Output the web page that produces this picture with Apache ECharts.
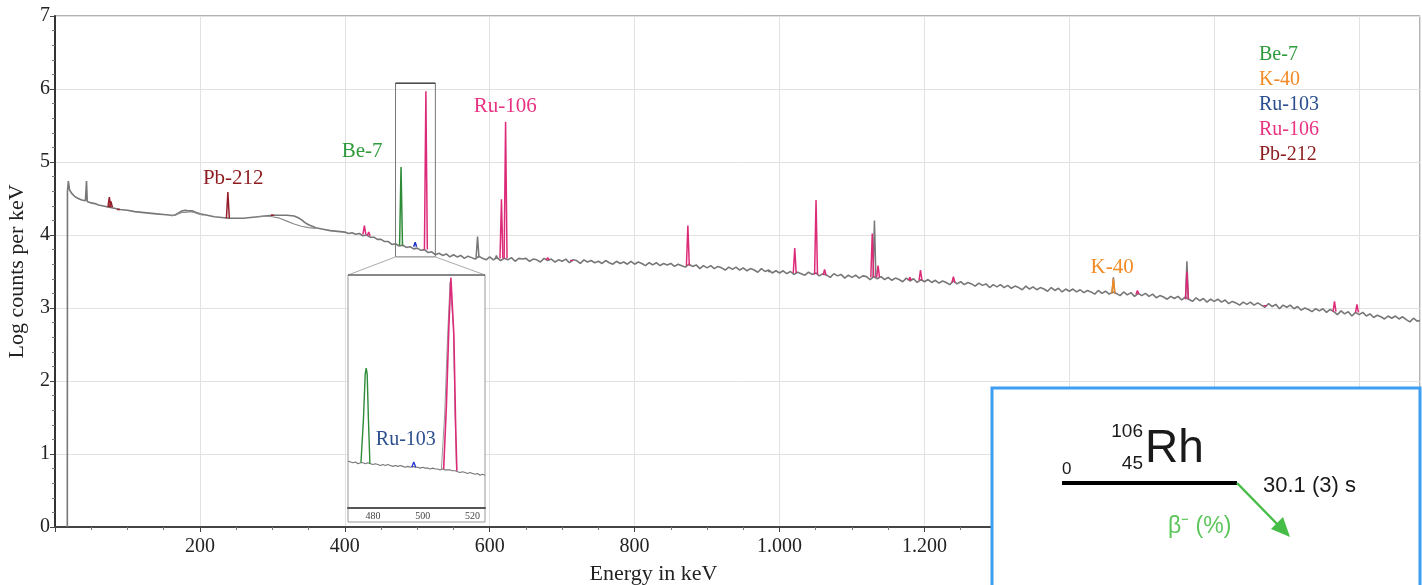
<!DOCTYPE html>
<html><head><meta charset="utf-8">
<script src="https://cdn.jsdelivr.net/npm/echarts@6/dist/echarts.min.js"></script>
<style>html,body{margin:0;padding:0;background:#fff}#c{width:1422px;height:585px}</style>
</head><body><div id="c"></div>
<script>
// ---------------- DATA ----------------
const xTickValues = [200, 400, 600, 800, 1000, 1200, 1400, 1600, 1800];
const xTickLabels = ['200', '400', '600', '800', '1.000', '1.200', '1.400', '1.600', '1.800'];
const yTickValues = [0, 1, 2, 3, 4, 5, 6, 7];
const insetTickValues = [480, 500, 520];
const insetTickLabels = ['480', '500', '520'];
const nuclides = ['Be-7', 'K-40', 'Ru-103', 'Ru-106', 'Pb-212'];

// low-energy part of the gray spectrum [keV, log counts]
const bgLow = [[17,0],[17.2,4.60],[18.5,4.74],[20,4.62],[23,4.57],[27,4.53],[32,4.50],[37,4.48],[42,4.47],[43.5,4.74],[44.5,4.46],[50,4.44],[55,4.43],[60,4.41],[65,4.40],[70,4.39],[80,4.37],[90,4.35],[100,4.34],[110,4.32],[120,4.31],[130,4.30],[140,4.29],[150,4.28],[160,4.27],[165,4.27],[170,4.30],[175,4.33],[180,4.34],[185,4.33],[190,4.33],[195,4.31],[200,4.29],[210,4.27],[220,4.25],[230,4.24],[240,4.23],[250,4.23],[260,4.23],[270,4.24],[280,4.25],[290,4.26],[300,4.27],[310,4.27],[320,4.27],[330,4.26],[335,4.24],[340,4.21],[345,4.17],[350,4.14],[360,4.10],[370,4.08],[380,4.06],[390,4.05],[400,4.04]];
// second (overlapping) measurement where it separates from the first
const bgAltA = [[160,4.26],[168,4.28],[175,4.31],[180,4.31],[186,4.32],[192,4.31],[198,4.29],[205,4.27]];
const bgAltB = [[280,4.25],[290,4.26],[300,4.25],[310,4.23],[320,4.19],[330,4.15],[340,4.12],[350,4.10],[360,4.09]];
// noisy part of the gray spectrum, from 405 keV in 5 keV channels
const bgNoisyStart = 405, bgNoisyStep = 5;
const bgNoisy = [
 4.02,4.03,4.01,4.02,3.99,4.00,3.97,3.97,3.94,
 3.94,3.91,3.91,3.87,3.88,3.85,3.86,3.83,3.84,3.81,
 3.82,3.79,3.80,3.76,3.77,3.73,3.75,3.72,3.74,3.70,
 3.73,3.70,3.72,3.68,3.71,3.69,3.67,3.71,3.68,3.66,
 3.70,3.66,3.69,3.65,3.68,3.66,3.69,3.64,3.68,3.67,
 3.68,3.64,3.67,3.66,3.63,3.68,3.65,3.67,3.63,3.66,
 3.64,3.67,3.62,3.66,3.65,3.61,3.66,3.63,3.65,3.62,
 3.64,3.61,3.65,3.62,3.60,3.64,3.61,3.63,3.60,3.64,
 3.60,3.63,3.61,3.58,3.62,3.59,3.62,3.58,3.61,3.59,
 3.61,3.57,3.60,3.58,3.56,3.60,3.57,3.59,3.54,3.58,
 3.55,3.58,3.54,3.57,3.55,3.52,3.56,3.53,3.56,3.52,
 3.55,3.51,3.54,3.52,3.49,3.54,3.50,3.52,3.48,3.51,
 3.48,3.51,3.47,3.50,3.46,3.49,3.47,3.45,3.49,3.46,
 3.48,3.44,3.47,3.45,3.42,3.47,3.44,3.46,3.41,3.45,
 3.42,3.45,3.41,3.44,3.43,3.39,3.43,3.40,3.43,3.39,
 3.42,3.38,3.41,3.39,3.36,3.41,3.37,3.40,3.35,3.39,
 3.36,3.39,3.35,3.38,3.34,3.37,3.35,3.32,3.37,3.33,
 3.36,3.32,3.35,3.33,3.30,3.34,3.31,3.33,3.28,3.32,
 3.29,3.32,3.28,3.31,3.27,3.30,3.28,3.25,3.30,3.26,
 3.29,3.25,3.28,3.26,3.23,3.28,3.24,3.27,3.22,3.26,
 3.23,3.26,3.22,3.25,3.21,3.24,3.22,3.19,3.24,3.20,
 3.23,3.19,3.22,3.20,3.17,3.22,3.18,3.21,3.16,3.20,
 3.17,3.20,3.16,3.19,3.14,3.17,3.15,3.12,3.16,3.13,
 3.16,3.11,3.15,3.12,3.09,3.14,3.10,3.13,3.08,3.12,
 3.09,3.12,3.08,3.11,3.06,3.09,3.07,3.04,3.08,3.05,
 3.08,3.04,3.07,3.04,3.01,3.06,3.02,3.05,2.99,3.04,
 3.01,3.04,2.99,3.02,2.97,3.00,2.98,2.95,2.99,2.96,
 2.99,2.94,2.98,2.95,2.91,2.96,2.92,2.95,2.89,2.94,
 2.91,2.94,2.89,2.92,2.87,2.90,2.88,2.85,2.89,2.86,
 2.89,2.85,2.88,2.84,2.81,2.86,2.82,2.83
];
// peaks: [energy keV, top, base]
const grayPeaks   = [[583.2,3.98,3.69],[609.3,3.72,3.67],[986,3.52,3.50],[1131,4.20,3.42],[1460.8,3.42,3.20],[1562.3,3.64,3.12]];
const be7Peaks    = [[477.6,4.93,3.86]];
const k40Peaks    = [[1460.8,3.40,3.20]];
const ru103Peaks  = [[497.1,3.90,3.84]];
const ru106Peaks  = [[427,4.13,4.01],[433,4.04,3.99],[511.9,5.97,3.80],[616.2,4.49,3.68],[621.9,5.55,3.68],[680,3.69,3.66],[713,3.67,3.65],[873.5,4.13,3.58],[1021,3.82,3.48],[1050.4,4.48,3.46],[1062.2,3.53,3.45],[1128,4.02,3.42],[1136,3.58,3.42],[1180,3.42,3.38],[1194.6,3.52,3.38],[1240,3.43,3.35],[1494,3.24,3.19],[1562.3,3.50,3.12],[1670,3.05,3.03],[1766,3.09,2.95],[1797,3.05,2.94]];
const pb212Peaks  = [[75.0,4.52,4.38],[77.2,4.46,4.38],[87.5,4.37,4.35],[238.6,4.59,4.23],[300.1,4.29,4.27]];

// inset (zoom 470-525 keV)
const insetBgStart = 470;
const insetBg = [3.88,3.87,3.86,3.87,3.85,3.86,3.86,3.85,3.86,3.85,
 3.84,3.85,3.84,3.83,3.84,3.83,3.84,3.83,3.82,3.83,
 3.82,3.83,3.82,3.81,3.82,3.81,3.82,3.81,3.81,3.80,
 3.81,3.80,3.80,3.79,3.80,3.79,3.79,3.78,3.79,3.78,
 3.78,3.78,3.77,3.77,3.76,3.75,3.76,3.75,3.74,3.75,
 3.74,3.73,3.74,3.72,3.73,3.72];
const insetBe7   = [[475.2,3.86],[476.2,4.35],[476.9,4.86],[477.3,4.93],[477.7,4.86],[478.2,4.35],[478.8,3.85]];
const insetRu103 = [[495.6,3.81],[496.4,3.87],[497.2,3.81]];
const insetRu106 = [[508.4,3.79],[509.5,4.5],[510.5,5.4],[511.3,5.95],[511.8,5.95],[512.5,5.3],[513.2,4.3],[513.7,3.77]];
const insetGray  = [[507.5,3.79],[508.8,4.4],[510.0,5.3],[511.0,5.9],[511.6,5.92],[512.3,5.4],[513.0,4.4],[513.6,3.77]];

// ---------------- CHART ----------------
const serif = '"Liberation Serif", "Times New Roman", serif';
const sans = '"Liberation Sans", Arial, sans-serif';
const colors = {'Be-7':'#2f9a3c','K-40':'#f28b26','Ru-103':'#2b4f8e','Ru-106':'#e83383','Pb-212':'#8c1c1f', gray:'#777777'};
const peakColor = {'Be-7':'#2e8b37','K-40':'#f08a24','Ru-103':'#2233cc','Ru-106':'#dd2a78','Pb-212':'#951d2a'};

const chart = echarts.init(document.getElementById('c'));
const series = [];
function line(name, data, color, width, z, axisIdx) {
  series.push({name, type:'line', data, symbol:'none', showSymbol:false, silent:true,
    xAxisIndex:axisIdx||0, yAxisIndex:axisIdx||0, z,
    lineStyle:{color, width}, itemStyle:{color}, animation:false});
}
const bgMain = bgLow.concat(bgNoisy.map((v,i)=>[bgNoisyStart+i*bgNoisyStep, v]));
bgMain[bgMain.length-1][0] = 1884;
line('background', bgMain, colors.gray, 1.6, 2);
line('background', bgAltA, '#8a8a8a', 1.2, 2);
line('background', bgAltB, '#8a8a8a', 1.2, 2);
function peaks(name, list, color, z) {
  list.forEach(p => line(name, [[p[0]-2, p[2]], [p[0], p[1]], [p[0]+2, p[2]]], color, 1.5, z));
}
peaks('background', grayPeaks, colors.gray, 3);
peaks('Pb-212', pb212Peaks, peakColor['Pb-212'], 4);
peaks('Ru-106', ru106Peaks, peakColor['Ru-106'], 4);
peaks('Be-7', be7Peaks, peakColor['Be-7'], 4);
peaks('Ru-103', ru103Peaks, peakColor['Ru-103'], 4);
peaks('K-40', k40Peaks, peakColor['K-40'], 4);
// inset
line('inset', insetBg.map((v,i)=>[insetBgStart+i, v]), colors.gray, 1.1, 12, 1);
line('inset', insetGray, '#999', 1, 12, 1);
line('Be-7', insetBe7, peakColor['Be-7'], 1.4, 13, 1);
line('Ru-103', insetRu103, peakColor['Ru-103'], 1.3, 13, 1);
line('Ru-106', insetRu106, peakColor['Ru-106'], 1.6, 13, 1);

const inset = {left:348, top:275, width:137, height:233, strip:14};

chart.setOption({
  animation:false,
  backgroundColor:'#fff',
  grid:[
    {left:55, right:2, top:16, bottom:58, show:true, borderColor:'#666', borderWidth:1,
     containLabel:false, outerBoundsMode:'none'},
    {left:inset.left, top:inset.top, width:inset.width, height:inset.height, show:false,
     containLabel:false, outerBoundsMode:'none'}
  ],
  legend:{orient:'vertical', left:1249, top:40, itemGap:5, itemWidth:0, itemHeight:20, icon:'none',
    selectedMode:false, textStyle:{fontFamily:serif, fontSize:20},
    data: nuclides.map(n => ({name:n, textStyle:{color:colors[n]}}))},
  xAxis:[
    {type:'value', gridIndex:0, min:0, max:1884, interval:200,
     name:'Energy in keV', nameLocation:'middle', nameGap:36,
     nameTextStyle:{fontFamily:serif, fontSize:22, color:'#222', padding:[0,168,0,0]},
     axisLine:{show:true, onZero:false, lineStyle:{color:'#444', width:2}},
     axisTick:{show:true, length:5, lineStyle:{color:'#444'}},
     minorTick:{show:true, splitNumber:4, length:3, lineStyle:{color:'#777'}},
     axisLabel:{showMinLabel:false, margin:10, fontFamily:serif, fontSize:20, color:'#222',
       formatter: v => { const i = xTickValues.indexOf(v); return i >= 0 ? xTickLabels[i] : ''; }},
     splitLine:{show:true, lineStyle:{color:'#e2e2e2'}}},
    {type:'value', gridIndex:1, min:470, max:525, z:12,
     axisLine:{show:true, onZero:false, lineStyle:{color:'#555', width:2}},
     axisTick:{show:false},
     axisLabel:{customValues:insetTickValues, margin:3, fontFamily:serif, fontSize:10, color:'#444',
       formatter: v => { const i = insetTickValues.indexOf(v); return i >= 0 ? insetTickLabels[i] : ''; }},
     splitLine:{show:false}}
  ],
  yAxis:[
    {type:'value', gridIndex:0, min:0, max:7, interval:1,
     name:'Log counts per keV', nameLocation:'middle', nameGap:27,
     nameTextStyle:{fontFamily:serif, fontSize:22, color:'#222'},
     axisLine:{show:true, lineStyle:{color:'#333', width:2}},
     axisTick:{show:true, length:5, lineStyle:{color:'#444'}},
     minorTick:{show:true, splitNumber:5, length:3, lineStyle:{color:'#777'}},
     axisLabel:{margin:5, fontFamily:serif, fontSize:20, color:'#222',
       formatter: v => yTickValues.indexOf(v) >= 0 ? String(v) : ''},
     splitLine:{show:true, lineStyle:{color:'#e2e2e2'}}},
    {type:'value', gridIndex:1, min:3.35, max:5.98, show:false, z:12}
  ],
  series
});

// ---------------- ANNOTATIONS (positioned through the axes) ----------------
const P = (x, y) => chart.convertToPixel({xAxisIndex:0, yAxisIndex:0}, [x, y]);
const PI = (x, y) => chart.convertToPixel({xAxisIndex:1, yAxisIndex:1}, [x, y]);
const g = [];
function label(text, pt, color, size, font) {
  g.push({type:'text', x:pt[0], y:pt[1], z:20,
    style:{text, fill:color, font: size + 'px ' + (font||serif), textAlign:'center', textVerticalAlign:'middle'}});
}
label('Pb-212', P(246, 4.77), colors['Pb-212'], 21);
label('Be-7', P(424, 5.14), colors['Be-7'], 21);
label('Ru-106', P(621.5, 5.76), colors['Ru-106'], 21);
label('K-40', P(1459, 3.56), colors['K-40'], 21);

// zoom rectangle on main plot
const r0 = P(470, 6.08), r1 = P(525, 3.70);
g.push({type:'rect', z:6, shape:{x:r0[0], y:r0[1], width:r1[0]-r0[0], height:r1[1]-r0[1]},
  style:{fill:'none', stroke:'#777', lineWidth:1}});
g.push({type:'line', z:6, shape:{x1:r0[0], y1:r0[1], x2:r1[0], y2:r0[1]}, style:{stroke:'#222', lineWidth:1}});
// inset frame + connectors
const i0 = PI(470, 5.98), i1 = PI(525, 3.35);
g.push({type:'rect', z:5, shape:{x:i0[0], y:i0[1], width:i1[0]-i0[0], height:i1[1]-i0[1]+inset.strip},
  style:{fill:'#fff', stroke:'#999', lineWidth:1}});
g.push({type:'line', z:6, shape:{x1:r0[0], y1:r1[1], x2:i0[0], y2:i0[1]}, style:{stroke:'#aaa', lineWidth:1}});
g.push({type:'line', z:6, shape:{x1:r1[0], y1:r1[1], x2:i1[0], y2:i0[1]}, style:{stroke:'#aaa', lineWidth:1}});
g.push({type:'line', z:6, shape:{x1:i0[0], y1:i0[1], x2:i1[0], y2:i0[1]}, style:{stroke:'#444', lineWidth:1}});
const lb = PI(493.2, 4.12);
g.push({type:'text', x:lb[0], y:lb[1], z:20,
  style:{text:'Ru-103', fill:colors['Ru-103'], font:'20px ' + serif, textAlign:'center', textVerticalAlign:'middle'}});

// decay scheme box
const box = {x:992, y:388};
g.push({type:'rect', z:50, shape:{x:box.x, y:box.y, width:1420-box.x, height:260},
  style:{fill:'#fff', stroke:'#3d9ef2', lineWidth:3}});
function dtext(text, x, y, size, align, color) {
  g.push({type:'text', x, y, z:51, style:{text, fill:color||'#1a1a1a', font:size+'px '+sans,
    textAlign:align||'left', textVerticalAlign:'middle'}});
}
dtext('0', 1062, 469, 17);
dtext('106', 1143, 432, 19, 'right');
dtext('45', 1143, 464, 19, 'right');
dtext('Rh', 1145, 449, 46);
dtext('30.1 (3) s', 1263, 486, 22);
g.push({type:'line', z:51, shape:{x1:1062, y1:483, x2:1237, y2:483}, style:{stroke:'#000', lineWidth:4}});
g.push({type:'line', z:51, shape:{x1:1237, y1:483, x2:1280, y2:527}, style:{stroke:'#46bd46', lineWidth:2.5}});
g.push({type:'polygon', z:51, shape:{points:[[1290,537],[1271,529],[1283,517]]}, style:{fill:'#46bd46'}});
dtext('β⁻ (%)', 1168, 527, 23, 'left', '#5cc65c');

chart.setOption({graphic:{elements:g}});
</script>
</body></html>
